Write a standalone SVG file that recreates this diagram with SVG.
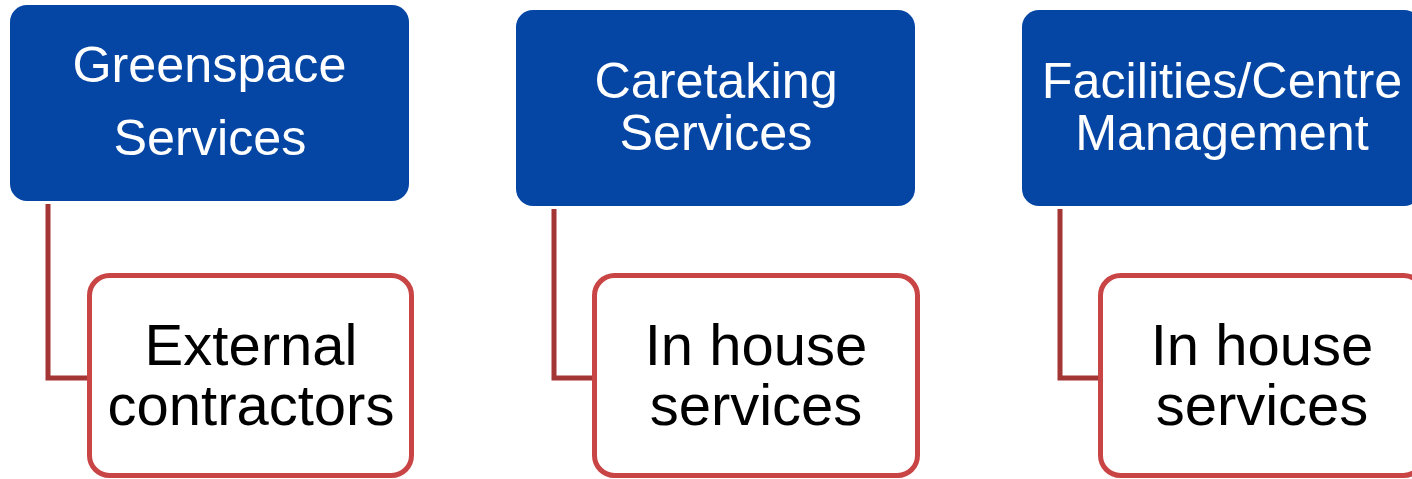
<svg xmlns="http://www.w3.org/2000/svg" width="1412" height="479" viewBox="0 0 1412 479">
<style>
.top{fill:#0546a5;}
.sub{fill:#ffffff;stroke:#c94545;stroke-width:5;}
.tt{font-family:"Liberation Sans",Arial,sans-serif;font-size:50.3px;fill:#ffffff;text-anchor:middle;}
.st{font-family:"Liberation Sans",Arial,sans-serif;font-size:58px;fill:#000000;text-anchor:middle;}
.con{fill:none;stroke:#a33535;stroke-width:5;}
</style>
<rect width="1412" height="479" fill="#ffffff"/>
<g id="connectors">
<path class="con" d="M48 204 V378 H89"/>
<path class="con" d="M554 209 V378 H594"/>
<path class="con" d="M1060 209 V378 H1100"/>
</g>
<g id="greenspace">
<rect class="top" x="10" y="5" width="399" height="196" rx="17"/>
<text class="tt" x="209.5" y="82">Greenspace</text>
<text class="tt" x="210" y="155">Services</text>
</g>
<g id="caretaking">
<rect class="top" x="516" y="10" width="399" height="196" rx="17"/>
<text class="tt" x="716" y="98">Caretaking</text>
<text class="tt" x="716" y="150">Services</text>
</g>
<g id="facilities">
<rect class="top" x="1022" y="10" width="399" height="196" rx="17"/>
<text class="tt" x="1222" y="98">Facilities/Centre</text>
<text class="tt" x="1222" y="150">Management</text>
</g>
<g id="external">
<rect class="sub" x="89.5" y="275.5" width="322" height="200" rx="20"/>
<text class="st" x="251" y="365">External</text>
<text class="st" x="251" y="425">contractors</text>
</g>
<g id="inhouse1">
<rect class="sub" x="594.5" y="275.5" width="323" height="200" rx="20"/>
<text class="st" x="756" y="365">In house</text>
<text class="st" x="756" y="425">services</text>
</g>
<g id="inhouse2">
<rect class="sub" x="1100.5" y="275.5" width="323" height="200" rx="20"/>
<text class="st" x="1262" y="365">In house</text>
<text class="st" x="1262" y="425">services</text>
</g>
</svg>
